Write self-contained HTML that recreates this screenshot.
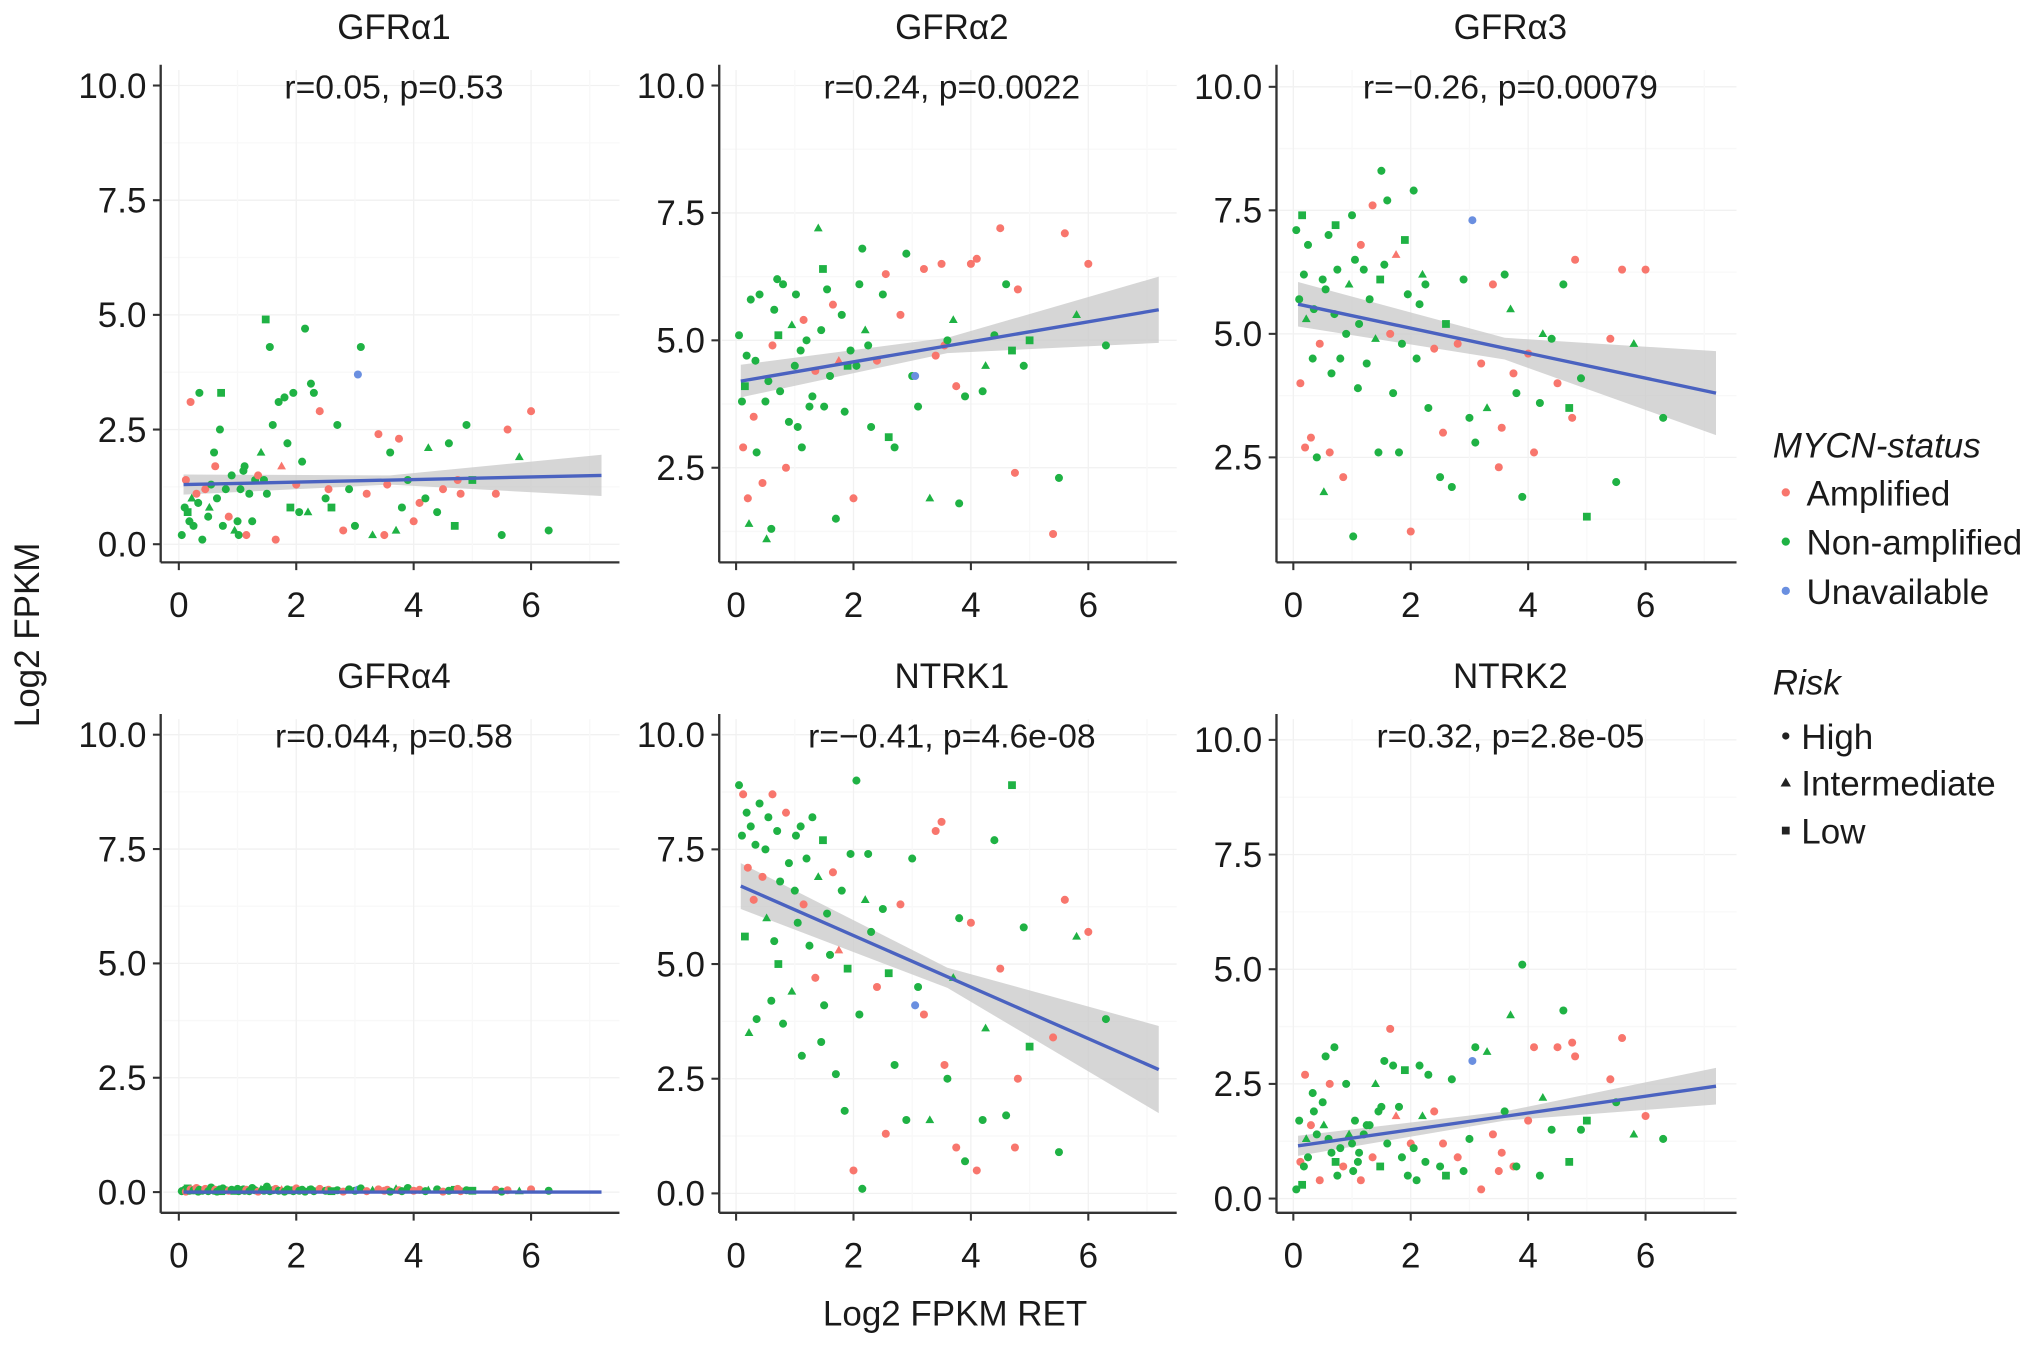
<!DOCTYPE html>
<html><head><meta charset="utf-8"><style>
html,body{margin:0;padding:0;background:#fff}
svg{display:block}
text{font-family:"Liberation Sans",sans-serif;fill:#1a1a1a}
</style></head><body>
<svg id="chart" width="2032" height="1345" viewBox="0 0 1568 1038" preserveAspectRatio="none" xmlns="http://www.w3.org/2000/svg">
<text x="0" y="0" font-size="27" text-anchor="middle" transform="translate(30,490) rotate(-90)">Log2 FPKM</text>
<text x="737" y="1023" font-size="27" text-anchor="middle">Log2 FPKM RET</text>
<g>
<text x="1368" y="353" font-size="27" font-style="italic">MYCN-status</text>
<circle cx="1378" cy="380" r="3.2" fill="#F8766D"/>
<text x="1394" y="390" font-size="27">Amplified</text>
<circle cx="1378" cy="418" r="3.2" fill="#1FB244"/>
<text x="1394" y="428" font-size="27">Non-amplified</text>
<circle cx="1378" cy="456" r="3.2" fill="#6A8FE0"/>
<text x="1394" y="466" font-size="27">Unavailable</text>
<text x="1368" y="536" font-size="27" font-style="italic">Risk</text>
<circle cx="1378" cy="568" r="2.8" fill="#222"/>
<text x="1390" y="578" font-size="27">High</text>
<polygon points="1378,600 1382,607 1374,607" fill="#222"/>
<text x="1390" y="614" font-size="27">Intermediate</text>
<rect x="1375" y="638" width="6" height="6" fill="#222"/>
<text x="1390" y="651" font-size="27">Low</text>
</g>
</svg>
<script>
const ret = [0.05,0.1,0.12,0.15,0.18,0.2,0.22,0.25,0.3,0.33,0.35,0.4,0.45,0.5,0.52,0.55,0.6,0.62,0.65,0.7,0.72,0.75,0.8,0.85,0.9,0.95,1.0,1.02,1.05,1.1,1.12,1.15,1.2,1.25,1.3,1.35,1.4,1.45,1.48,1.5,1.55,1.6,1.65,1.7,1.75,1.8,1.85,1.9,1.95,2.0,2.05,2.1,2.15,2.2,2.25,2.3,2.4,2.5,2.55,2.6,2.7,2.8,2.9,3.0,3.05,3.1,3.2,3.3,3.4,3.5,3.55,3.6,3.7,3.75,3.8,3.9,4.0,4.1,4.2,4.25,4.4,4.5,4.6,4.7,4.75,4.8,4.9,5.0,5.4,5.5,5.6,5.8,6.0,6.3,7.2];
const status = "NNANNANNANNNANNNNANNNNNANNNNNNNANNNANNNNNNANANNNNANNNNNNANANNANNUNANAAANNANNAANNNANNAANNANANAN".split('');
const risk = "HHHLHHIHHHHHHHIHHHHHLHHHHIHHHHHHHHHHIHLHHHHHIHHLHHHHHIHHHHHLHHHHHHHIHHHHIHHHHHHIHHHLHHHLHHHIHHH".split('');
const yGFRa1 = [0.2,0.8,1.4,0.7,0.5,3.1,1.0,0.4,1.1,0.9,3.3,0.1,1.2,0.6,0.8,1.3,2.0,1.7,1.0,2.5,3.3,0.4,1.2,0.6,1.5,0.3,0.5,0.2,1.2,1.6,1.7,0.2,1.1,0.5,1.4,1.5,2.0,1.4,4.9,1.1,4.3,2.6,0.1,3.1,1.7,3.2,2.2,0.8,3.3,1.3,0.7,1.8,4.7,0.7,3.5,3.3,2.9,1.0,1.2,0.8,2.6,0.3,1.2,0.4,3.7,4.3,1.1,0.2,2.4,0.2,1.3,2.0,0.3,2.3,0.8,1.4,0.5,0.9,1.0,2.1,0.7,1.2,2.2,0.4,1.4,1.1,2.6,1.4,1.1,0.2,2.5,1.9,2.9,0.3,1.5];
const yGFRa2 = [5.1,3.8,2.9,4.1,4.7,1.9,1.4,5.8,3.5,4.6,2.8,5.9,2.2,3.8,1.1,4.2,1.3,4.9,5.6,6.2,5.1,4.0,6.1,2.5,3.4,5.3,4.5,5.9,3.3,4.8,2.9,5.4,5.0,3.7,3.9,4.4,7.2,5.2,6.4,3.7,6.0,4.3,5.7,1.5,4.6,5.5,3.6,4.5,4.8,1.9,4.5,6.1,6.8,5.2,4.9,3.3,4.6,5.9,6.3,3.1,2.9,5.5,6.7,4.3,4.3,3.7,6.4,1.9,4.7,6.5,4.9,5.0,5.4,4.1,1.8,3.9,6.5,6.6,4.0,4.5,5.1,7.2,6.1,4.8,2.4,6.0,4.5,5.0,1.2,2.3,7.1,5.5,6.5,4.9,6.6];
const yGFRa3 = [7.1,5.7,4.0,7.4,6.2,2.7,5.3,6.8,2.9,4.5,5.5,2.5,4.8,6.1,1.8,5.9,7.0,2.6,4.2,5.4,7.2,6.3,4.5,2.1,5.0,6.0,7.4,0.9,6.5,3.9,5.2,6.8,6.3,4.4,5.7,7.6,4.9,2.6,6.1,8.3,6.4,7.7,5.0,3.8,6.6,2.6,4.8,6.9,5.8,1.0,7.9,4.5,5.6,6.2,6.0,3.5,4.7,2.1,3.0,5.2,1.9,4.8,6.1,3.3,7.3,2.8,4.4,3.5,6.0,2.3,3.1,6.2,5.5,4.2,3.8,1.7,4.6,2.6,3.6,5.0,4.9,4.0,6.0,3.5,3.3,6.5,4.1,1.3,4.9,2.0,6.3,4.8,6.3,3.3,1.8];
const yGFRa4 = [0.02,0.05,0.01,0.08,0.03,0.06,0.02,0.04,0.09,0.01,0.05,0.03,0.07,0.02,0.04,0.1,0.03,0.05,0.01,0.06,0.02,0.08,0.04,0.03,0.05,0.01,0.07,0.02,0.04,0.06,0.03,0.05,0.02,0.09,0.04,0.01,0.06,0.03,0.05,0.12,0.02,0.04,0.07,0.03,0.05,0.01,0.06,0.04,0.02,0.08,0.03,0.05,0.01,0.04,0.06,0.02,0.07,0.03,0.05,0.02,0.04,0.01,0.06,0.03,0.05,0.08,0.02,0.04,0.06,0.03,0.05,0.01,0.07,0.04,0.02,0.09,0.03,0.05,0.02,0.04,0.06,0.01,0.03,0.05,0.07,0.02,0.04,0.03,0.05,0.01,0.04,0.02,0.06,0.03,0.04];
const yNTRK1 = [8.9,7.8,8.7,5.6,8.3,7.1,3.5,8.0,6.4,7.6,3.8,8.5,6.9,7.5,6.0,8.2,4.2,8.7,5.5,7.9,5.0,6.8,3.7,8.3,7.2,4.4,6.6,7.8,5.9,8.0,3.0,6.3,7.3,5.4,8.2,4.7,6.9,3.3,7.7,4.1,6.1,5.2,7.0,2.6,5.3,6.6,1.8,4.9,7.4,0.5,9.0,3.9,0.1,6.4,7.4,5.7,4.5,6.2,1.3,4.8,2.8,6.3,1.6,7.3,4.1,4.5,3.9,1.6,7.9,8.1,2.8,2.5,4.7,1.0,6.0,0.7,5.9,0.5,1.6,3.6,7.7,4.9,1.7,8.9,1.0,2.5,5.8,3.2,3.4,0.9,6.4,5.6,5.7,3.8,2.9];
const yNTRK2 = [0.2,1.7,0.8,0.3,0.7,2.7,1.3,0.9,1.6,2.3,1.9,1.4,0.4,2.1,1.6,3.1,1.3,2.5,1.0,3.3,0.8,0.5,1.1,0.7,2.5,1.4,1.2,0.6,1.7,0.8,1.0,0.4,1.4,1.6,1.6,0.9,2.5,1.9,0.7,2.0,3.0,1.2,3.7,2.9,1.8,2.0,0.9,2.8,0.5,1.2,1.1,0.4,2.9,1.8,0.8,2.7,1.9,0.7,1.2,0.5,2.6,0.9,0.6,1.3,3.0,3.3,0.2,3.2,1.4,0.6,1.0,1.9,4.0,0.7,0.7,5.1,1.7,3.3,0.5,2.2,1.5,3.3,4.1,0.8,3.4,3.1,1.5,1.7,2.6,2.1,3.5,1.4,1.8,1.3,3.5];
const panelTitles = ["GFRα1","GFRα2","GFRα3","GFRα4","NTRK1","NTRK2"];
const panelStats = ["r=0.05, p=0.53","r=0.24, p=0.0022","r=−0.26, p=0.00079","r=0.044, p=0.58","r=−0.41, p=4.6e-08","r=0.32, p=2.8e-05"];
const fitStart = [1.3,4.2,5.6,0.0,6.7,1.15];
const fitEnd = [1.5,5.6,3.8,0.0,2.7,2.45];
const bandStart = [0.22,0.32,0.45,0.02,0.5,0.22];
const bandMid = [0.1,0.15,0.22,0.01,0.22,0.1];
const bandEnd = [0.45,0.65,0.85,0.02,0.95,0.4];
const yTicks = [0,2.5,5,7.5,10];
const yTickLabels = ["0.0","2.5","5.0","7.5","10.0"];
const xTicks = [0,2,4,6];
const yData = [yGFRa1,yGFRa2,yGFRa3,yGFRa4,yNTRK1,yNTRK2];

const layout = [
 {l:124,r:478,top:50,bot:434,x0:138,y0:420,ys:35.4},
 {l:555,r:908,top:50,bot:434,x0:568,y0:459.3,ys:39.33},
 {l:985,r:1340,top:50,bot:434,x0:998,y0:448.3,ys:38.13},
 {l:124,r:478,top:551,bot:936,x0:138,y0:920,ys:35.3},
 {l:555,r:908,top:551,bot:936,x0:568,y0:921,ys:35.4},
 {l:985,r:1340,top:551,bot:936,x0:998,y0:925,ys:35.4}
];
const colors = {A:"#F8766D",N:"#1FB244",U:"#6A8FE0"};
const NS = "http://www.w3.org/2000/svg";
const svg = document.getElementById('chart');
function mk(tag, attrs, parent){const e=document.createElementNS(NS,tag);for(const k in attrs)e.setAttribute(k,attrs[k]);(parent||svg).appendChild(e);return e;}

layout.forEach((L,pi)=>{
 const sx = v => L.x0 + 45.3*v;
 const sy = v => L.y0 - L.ys*v;
 const g = mk('g',{});
 
 
 for(let v=0; v<=10; v+=1.25){const y=sy(v); if(y<L.top+4||y>L.bot-2) continue;
  const gl=mk('line',{x1:L.l+2,x2:L.r,y1:y,y2:y,stroke:v%2.5===0?"#f1f1f1":"#f8f8f8","stroke-width":1},g);
  
  }
 for(let v=0; v<=7; v+=1){const x=sx(v);
  const gl=mk('line',{x1:x,x2:x,y1:L.top+4,y2:L.bot-1,stroke:v%2===0?"#f1f1f1":"#f8f8f8","stroke-width":1},g);
  
  }
 const xa=0.08, xb=7.2, xm=3.6;
 const fa=fitStart[pi], fb=fitEnd[pi], fm=(fa+fb)/2;
 const pts=[[xa,fa+bandStart[pi]],[xm,fm+bandMid[pi]],[xb,fb+bandEnd[pi]],[xb,fb-bandEnd[pi]],[xm,fm-bandMid[pi]],[xa,fa-bandStart[pi]]];
 const band=mk('polygon',{points:pts.map(p=>sx(p[0])+','+sy(p[1])).join(' '),fill:"#c8c8c8","fill-opacity":0.75},g);
 
 
 const ys=yData[pi]; const n=Math.min(ret.length,ys.length,status.length,risk.length);
 for(let i=0;i<n;i++){
  const cx=sx(ret[i]), cy=sy(ys[i]); const c=colors[status[i]]; let m;
  if(risk[i]==='I') m=mk('polygon',{points:`${cx},${cy-3.6} ${cx+3.4},${cy+2.4} ${cx-3.4},${cy+2.4}`,fill:c},g);
  else if(risk[i]==='L') m=mk('rect',{x:cx-3,y:cy-3,width:6,height:6,fill:c},g);
  else m=mk('circle',{cx:cx,cy:cy,r:3.1,fill:c},g);
  
  
 }
 const fl=mk('line',{x1:sx(xa),y1:sy(fa),x2:sx(xb),y2:sy(fb),stroke:"#4A62C0","stroke-width":2.6},g);
 
 
 const ya=mk('line',{x1:L.l,x2:L.l,y1:L.top,y2:L.bot,stroke:"#333","stroke-width":1.8},g);
 
 
 const xl=mk('line',{x1:L.l,x2:L.r,y1:L.bot,y2:L.bot,stroke:"#333","stroke-width":1.8},g);
 
 
 yTicks.forEach((v,k)=>{const y=sy(v); if(y>L.bot-2) return;
  const t=mk('line',{x1:L.l-6,x2:L.l,y1:y,y2:y,stroke:"#333","stroke-width":1.6},g);
  
  
  const tl=mk('text',{x:L.l-11,y:y+9.5,"font-size":27,"text-anchor":"end"},g); tl.textContent=yTickLabels[k];
  
  });
 xTicks.forEach(v=>{const x=sx(v);
  const t=mk('line',{x1:x,x2:x,y1:L.bot,y2:L.bot+6,stroke:"#333","stroke-width":1.6},g);
  
  
  const tl=mk('text',{x:x,y:L.bot+42,"font-size":27,"text-anchor":"middle"},g); tl.textContent=String(v);
  
  });
 const cxm=(L.l+L.r)/2+3;
 const ti=mk('text',{x:cxm,y:L.top-20,"font-size":27,"text-anchor":"middle"},g); ti.textContent=panelTitles[pi];
 
 
 const st=mk('text',{x:cxm,y:L.top+26,"font-size":26,"text-anchor":"middle"},g); st.textContent=panelStats[pi];
 
 
});
</script>
</body></html>
